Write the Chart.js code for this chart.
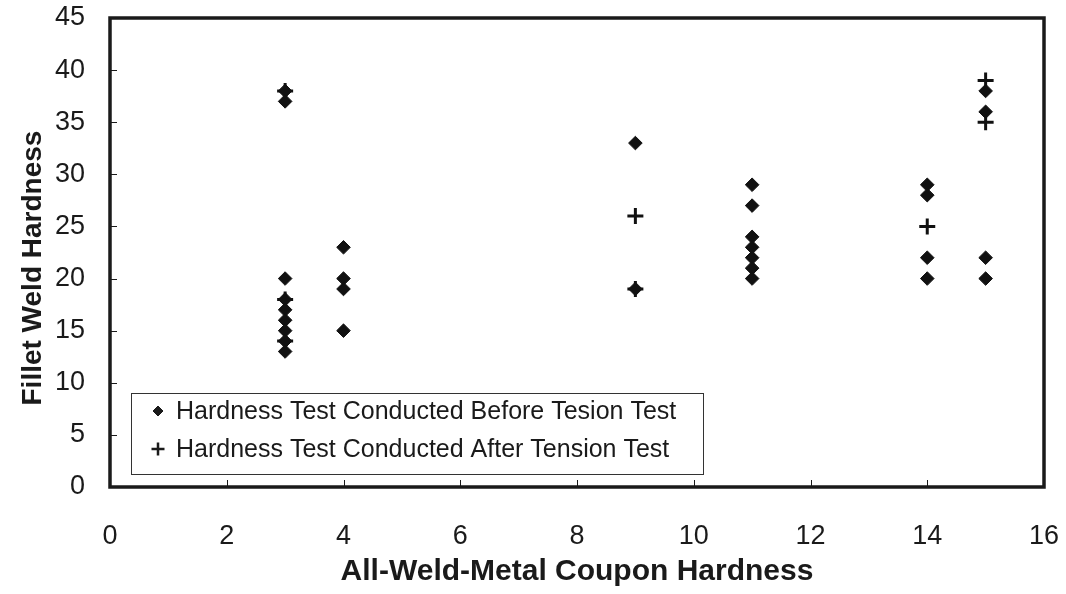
<!DOCTYPE html>
<html><head><meta charset="utf-8">
<script src="https://cdn.jsdelivr.net/npm/chart.js@4.4.0/dist/chart.umd.min.js"></script>
<style>html,body{margin:0;padding:0;background:#fff}#wrap{width:1066px;height:594px;position:relative}</style>
</head><body><div id="wrap"><canvas id="c" width="1066" height="594"></canvas></div>
<script>
// Data
const beforeX = [3,3,3,3,3,3,3,3,3, 4,4,4,4, 9,9, 11,11,11,11,11,11,11, 14,14,14,14, 15,15,15,15];
const beforeY = [38,37,20,18,17,16,15,14,13, 23,20,19,15, 33,19, 29,27,24,23,22,21,20, 29,28,22,20, 38,36,22,20];
const afterX = [3,3,3, 9,9, 14, 15,15];
const afterY = [38,18,14, 26,19, 25, 39,35];
const xTicks = [0,2,4,6,8,10,12,14,16];
const yTicks = [0,5,10,15,20,25,30,35,40,45];
const seriesNames = ['Hardness Test Conducted Before Tesion Test', 'Hardness Test Conducted After Tension Test'];
const xTitle = 'All-Weld-Metal Coupon Hardness';
const yTitle = 'Fillet Weld Hardness';

const FONT = "'Liberation Sans', Arial, sans-serif";
const toPts = (xs, ys) => xs.map((x, i) => ({x: x, y: ys[i]}));

const framePlugin = {
  id: 'frame',
  afterDatasetsDraw(chart) {
    const {ctx, chartArea: a, scales} = chart;
    ctx.save();
    ctx.strokeStyle = '#1a1a1a';
    ctx.lineWidth = 1;
    ctx.beginPath();
    xTicks.forEach(v => {
      if (v === xTicks[0] || v === xTicks[xTicks.length - 1]) return;
      const px = Math.round(scales.x.getPixelForValue(v)) + 0.5;
      ctx.moveTo(px, a.bottom); ctx.lineTo(px, a.bottom - 7);
    });
    yTicks.forEach(v => {
      if (v === yTicks[0] || v === yTicks[yTicks.length - 1]) return;
      const py = Math.round(scales.y.getPixelForValue(v)) + 0.5;
      ctx.moveTo(a.left, py); ctx.lineTo(a.left + 7, py);
    });
    ctx.stroke();
    ctx.lineWidth = 3.5;
    ctx.strokeRect(a.left, a.top, a.right - a.left, a.bottom - a.top);
    ctx.restore();
  },
  afterDraw(chart) {
    const {ctx} = chart;
    const bx = 131, by = 393, bw = 572, bh = 81;
    ctx.save();
    ctx.fillStyle = '#fff';
    ctx.fillRect(bx, by, bw, bh);
    ctx.strokeStyle = '#333';
    ctx.lineWidth = 1;
    ctx.strokeRect(bx + 0.5, by + 0.5, bw, bh);
    ctx.font = '25px ' + FONT;
    ctx.textBaseline = 'middle';
    ctx.textAlign = 'left';
    const rows = [by + 18, by + 56];
    chart.data.datasets.forEach((ds, i) => {
      const cx = 158, cy = rows[i];
      ctx.fillStyle = '#1a1a1a';
      ctx.strokeStyle = '#1a1a1a';
      ctx.lineWidth = i === 0 ? 1 : 2.5;
      Chart.helpers.drawPoint(ctx, {
        pointStyle: ds.pointStyle, radius: i === 0 ? 5 : 6.5, borderWidth: ctx.lineWidth
      }, cx, cy);
      ctx.fillStyle = '#1a1a1a';
      ctx.fillText(ds.label, 176, cy + 1);
    });
    ctx.restore();
  }
};

new Chart(document.getElementById('c'), {
  type: 'scatter',
  data: {
    datasets: [
      {label: seriesNames[0], data: toPts(beforeX, beforeY), pointStyle: 'rectRot', pointRadius: 6.8,
       backgroundColor: '#111', borderColor: '#111', borderWidth: 1},
      {label: seriesNames[1], data: toPts(afterX, afterY), pointStyle: 'cross', pointRadius: 8,
       backgroundColor: '#111', borderColor: '#111', borderWidth: 3}
    ]
  },
  options: {
    responsive: false,
    animation: false,
    layout: {padding: {top: 18, right: 22, left: 0, bottom: 0}},
    plugins: {legend: {display: false}, tooltip: {enabled: false}},
    scales: {
      x: {
        type: 'linear', min: 0, max: 16,
        afterBuildTicks: s => { s.ticks = xTicks.map(v => ({value: v})); },
        afterFit: s => { s.height = 107; s.paddingLeft = 0; s.paddingRight = 0; },
        grid: {display: false}, border: {display: false},
        ticks: {font: {size: 27, family: FONT}, color: '#1a1a1a', padding: 25, maxRotation: 0},
        title: {display: true, text: xTitle, font: {size: 30, weight: 'bold', family: FONT}, color: '#1a1a1a', padding: {top: 0, bottom: 4}}
      },
      y: {
        type: 'linear', min: 0, max: 45,
        afterBuildTicks: s => { s.ticks = yTicks.map(v => ({value: v})); },
        afterFit: s => { s.width = 110; s.paddingTop = 0; s.paddingBottom = 0; },
        grid: {display: false}, border: {display: false},
        ticks: {font: {size: 27, family: FONT}, color: '#1a1a1a', padding: 17},
        title: {display: true, text: yTitle + '    ', font: {size: 28, weight: 'bold', family: FONT}, color: '#1a1a1a', padding: {top: 16, bottom: 0}}
      }
    }
  },
  plugins: [framePlugin]
});
</script></body></html>
